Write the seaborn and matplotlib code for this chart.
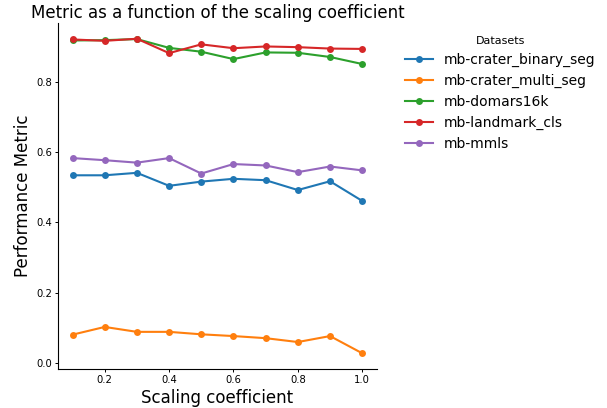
import numpy as np
import pandas as pd
import seaborn as sns
import matplotlib
matplotlib.use("Agg")
import matplotlib.pyplot as plt

scales = [0.1, 0.2, 0.3, 0.4, 0.5, 0.6, 0.7, 0.8, 0.9, 1.0]
crater_binary = [0.534, 0.534, 0.541, 0.504, 0.516, 0.524, 0.520, 0.492, 0.517, 0.461]
crater_multi = [0.080, 0.102, 0.088, 0.088, 0.081, 0.076, 0.070, 0.059, 0.076, 0.027]
domars16k = [0.918, 0.919, 0.922, 0.897, 0.886, 0.865, 0.884, 0.883, 0.871, 0.851]
landmark = [0.921, 0.917, 0.923, 0.882, 0.907, 0.896, 0.901, 0.899, 0.895, 0.894]
mmls = [0.583, 0.577, 0.570, 0.583, 0.539, 0.566, 0.562, 0.543, 0.559, 0.548]
names = ["mb-crater_binary_seg", "mb-crater_multi_seg", "mb-domars16k", "mb-landmark_cls", "mb-mmls"]

series = [crater_binary, crater_multi, domars16k, landmark, mmls]
rows = []
for n, vals in zip(names, series):
    for s, v in zip(scales, vals):
        rows.append({"Scaling coefficient": s, "Performance Metric": v, "Datasets": n})
df = pd.DataFrame(rows)

plt.rcParams['font.family'] = ['DejaVu Sans']
fig = plt.figure(figsize=(6.07, 4.08), dpi=100)
ax = fig.add_axes([0.0956, 0.0956, 0.525, 0.848])
sns.lineplot(data=df, x="Scaling coefficient", y="Performance Metric", hue="Datasets",
             marker="o", markersize=5, markeredgewidth=0, linewidth=1.5, ax=ax,
             palette="tab10")
ax.set_title("Metric as a function of the scaling coefficient", fontsize=12, pad=3.5)
ax.set_xlabel("Scaling coefficient", fontsize=12, labelpad=3)
ax.set_ylabel("Performance Metric", fontsize=12, labelpad=3)
ax.tick_params(labelsize=7.2, length=2, width=0.7, pad=2.2)
for s in ax.spines.values():
    s.set_linewidth(0.8)
sns.despine(ax=ax)
leg = ax.legend(title="Datasets", loc="upper left", bbox_to_anchor=(1.05, 1.0), frameon=False,
                fontsize=10, title_fontsize=8)
fig.savefig("out.png", dpi=100)
